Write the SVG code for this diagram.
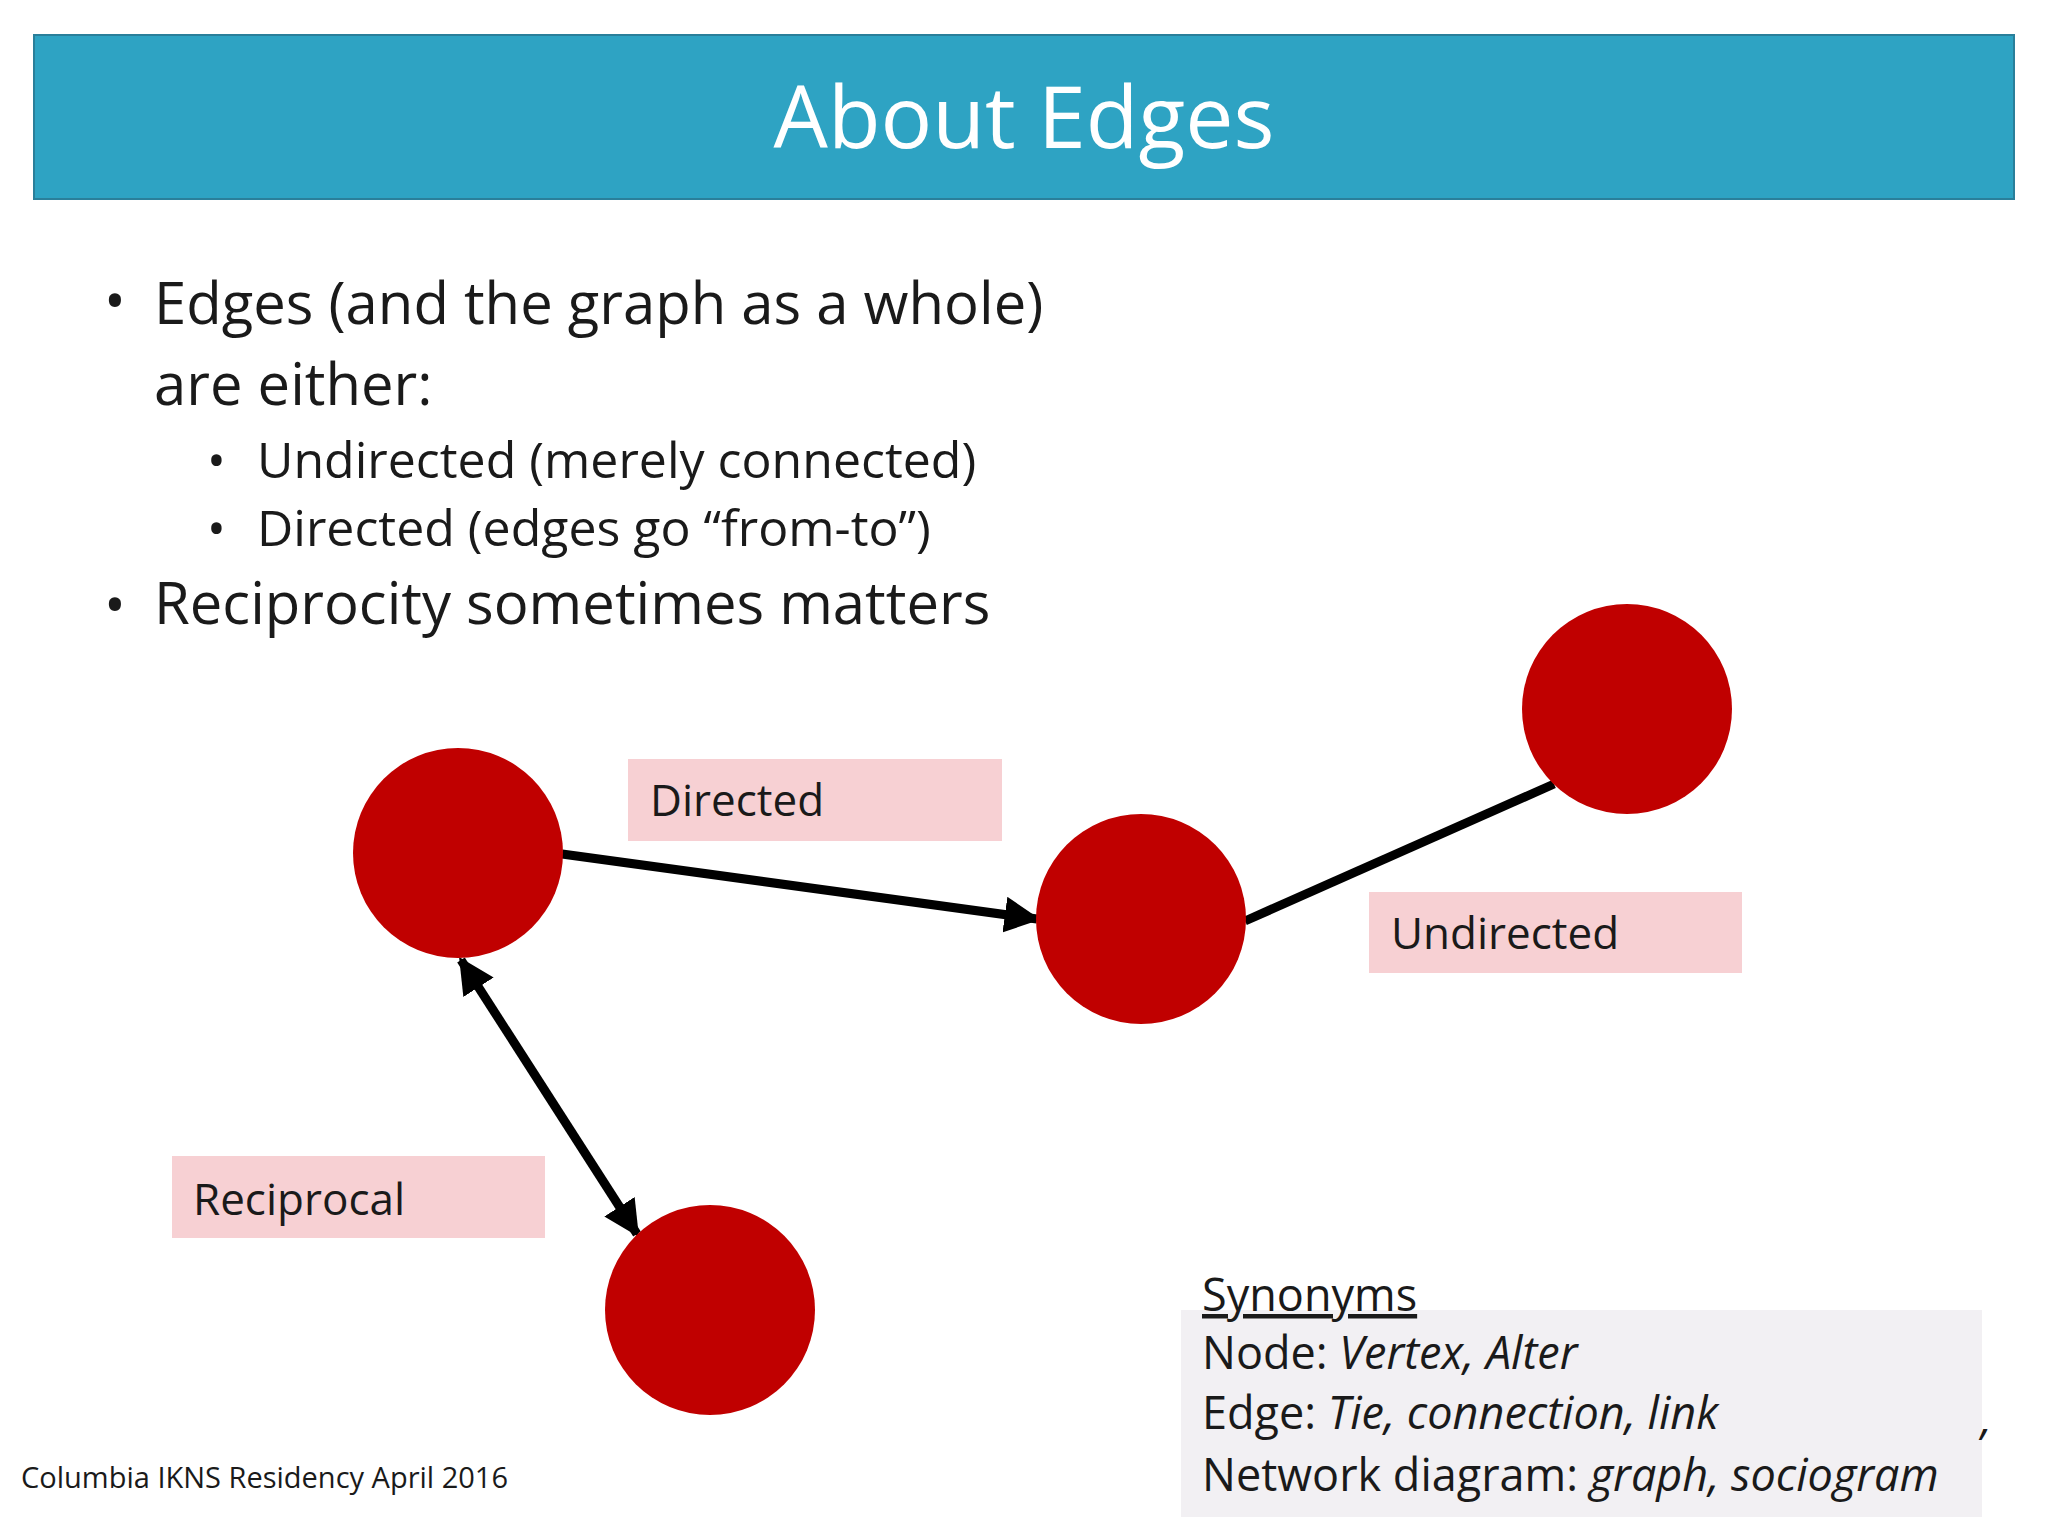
<svg xmlns="http://www.w3.org/2000/svg" width="2048" height="1536" viewBox="0 0 2048 1536">
<style>
text{font-family:"Open Sans","Noto Sans",sans-serif;fill:#1a1a1a}
.lbl{fill:#F7D0D3}
.node{fill:#C00000}
.e{stroke:#000;stroke-width:9;fill:none}
</style>
<defs>
<marker id="ah" viewBox="0 0 10 10" refX="9" refY="5" markerWidth="4" markerHeight="4" orient="auto-start-reverse"><path d="M0,0L10,5L0,10z" fill="#000"/></marker>
</defs>
<rect width="2048" height="1536" fill="#fff"/>
<rect x="34" y="35" width="1980" height="164" fill="#2EA3C3" stroke="#2a7f9a" stroke-width="2"/>
<text x="1024" y="148" text-anchor="middle" font-size="86" style="fill:#fff">About Edges</text>
<g font-size="58">
<text x="104" y="322">•</text><text x="154" y="324">Edges (and the graph as a whole)</text>
<text x="154" y="405">are either:</text>
<text x="104" y="626">•</text><text x="154" y="624">Reciprocity sometimes matters</text>
</g>
<g font-size="50">
<text x="207" y="478">•</text><text x="257" y="478">Undirected (merely connected)</text>
<text x="207" y="546">•</text><text x="257" y="546">Directed (edges go “from-to”)</text>
</g>
<g id="connectors">
<line class="e" x1="562" y1="854" x2="1037" y2="919" marker-end="url(#ah)"/>
<line class="e" x1="1245" y1="921" x2="1554" y2="784"/>
<line class="e" x1="461" y1="960" x2="637" y2="1234" marker-start="url(#ah)" marker-end="url(#ah)"/>
</g>
<g id="n1"><circle class="node" cx="458" cy="853" r="105"/></g>
<g id="n2"><circle class="node" cx="1141" cy="919" r="105"/></g>
<g id="n3"><circle class="node" cx="1627" cy="709" r="105"/></g>
<g id="n4"><circle class="node" cx="710" cy="1310" r="105"/></g>
<g id="lbl-directed"><rect class="lbl" x="628" y="759" width="374" height="82"/><text x="650" y="816" font-size="44">Directed</text></g>
<g id="lbl-undirected"><rect class="lbl" x="1369" y="892" width="373" height="81"/><text x="1391" y="949" font-size="44">Undirected</text></g>
<g id="lbl-reciprocal"><rect class="lbl" x="172" y="1156" width="373" height="82"/><text x="193" y="1215" font-size="44">Reciprocal</text></g>
<g id="synonyms">
<rect x="1181" y="1310" width="801" height="207" fill="#F2F0F3"/>
<g font-size="45">
<text x="1202" y="1311" text-decoration="underline">Synonyms</text>
<text x="1202" y="1369">Node: <tspan font-style="italic">Vertex, Alter</tspan></text>
<text x="1202" y="1429">Edge: <tspan font-style="italic">Tie, connection, link</tspan></text>
<text x="1202" y="1491">Network diagram: <tspan font-style="italic">graph, sociogram</tspan></text>
</g>
<text x="1976" y="1462" font-size="45" font-style="italic">’</text>
</g>
<text x="21" y="1488" font-size="29">Columbia IKNS Residency April 2016</text>
</svg>
